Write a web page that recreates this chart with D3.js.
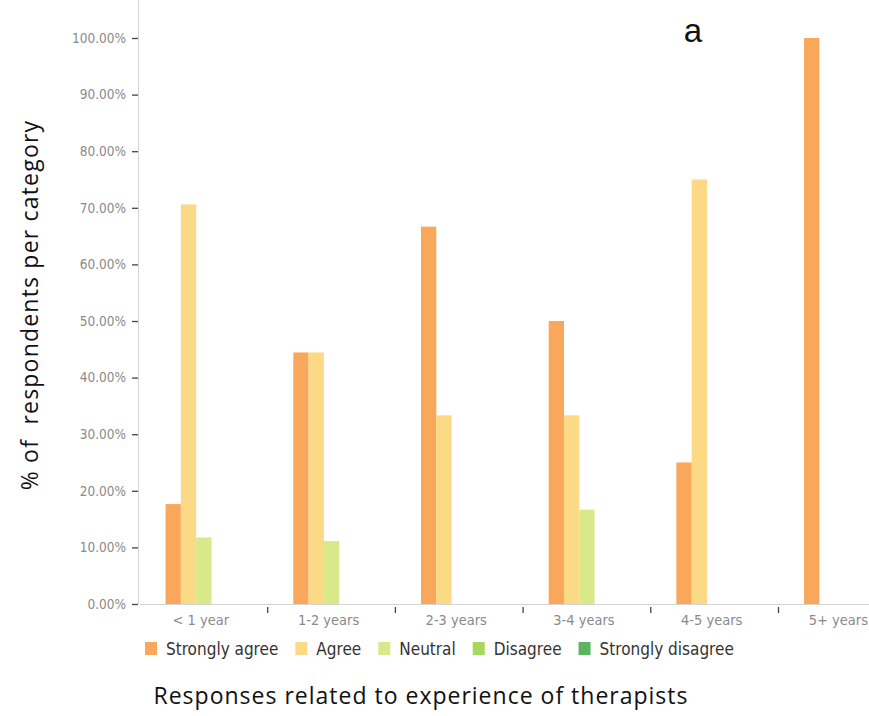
<!DOCTYPE html>
<html>
<head>
<meta charset="utf-8">
<script src="https://cdn.jsdelivr.net/npm/d3@7"></script>
<style>
  html, body { margin: 0; padding: 0; background: #fff; }
  svg { display: block; }
  .cond { font-family: "Liberation Sans Narrow", "DejaVu Sans Condensed", "Roboto Condensed", sans-serif; }
</style>
</head>
<body>
<svg id="chart" width="869" height="716"></svg>
<script>
const categories = ["< 1 year", "1-2 years", "2-3 years", "3-4 years", "4-5 years", "5+ years"];
const seriesNames = ["Strongly agree", "Agree", "Neutral", "Disagree", "Strongly disagree"];
const stronglyAgree    = [17.65, 44.44, 66.67, 50.00, 25.00, 100.00];
const agree            = [70.59, 44.44, 33.33, 33.33, 75.00, 0];
const neutral          = [11.76, 11.11, 0, 16.67, 0, 0];
const disagree         = [0, 0, 0, 0, 0, 0];
const stronglyDisagree = [0, 0, 0, 0, 0, 0];
const yTicks = [0, 10, 20, 30, 40, 50, 60, 70, 80, 90, 100];
const colors = ["#F9A85B", "#FCD985", "#D9E98A", "#A6D95B", "#5BB55E"];

const seriesValues = [stronglyAgree, agree, neutral, disagree, stronglyDisagree];

const svg = d3.select("#chart");
const x0 = 140, step = 127.7;
const x = d3.scaleBand().domain(categories).range([x0, x0 + step * categories.length]).paddingInner(0).paddingOuter(0);
const xs = d3.scaleBand().domain(seriesNames).range([0, x.bandwidth()]).paddingInner(0).paddingOuter(1.67);
const y = d3.scaleLinear().domain([0, 100]).range([604, 38]);

// bars
seriesNames.forEach((s, si) => {
  svg.append("g").selectAll("rect")
    .data(categories.map((c, ci) => ({ c, v: seriesValues[si][ci] })))
    .join("rect")
    .attr("x", d => x(d.c) + xs(s))
    .attr("y", d => y(d.v))
    .attr("width", xs.bandwidth())
    .attr("height", d => y(0) - y(d.v))
    .attr("fill", colors[si]);
});

// y axis
const yAxis = svg.append("g").attr("transform", "translate(138,0)")
  .call(d3.axisLeft(y).tickValues(yTicks).tickSize(6).tickPadding(6).tickFormat(d => d.toFixed(2) + "%"));
yAxis.select(".domain").attr("stroke", "#d4d4d4").attr("d", "M0.5,0V" + y(0));
yAxis.selectAll(".tick line").attr("stroke", "#444").attr("x2", -6).attr("stroke-width", 1.3);
yAxis.selectAll(".tick text").attr("fill", "#8a8a8a").attr("class", "cond").style("font-size", "13.5px");

// x axis
const xAxis = svg.append("g").attr("transform", "translate(0," + y(0) + ")")
  .call(d3.axisBottom(x).tickSize(0).tickPadding(11));
xAxis.select(".domain").attr("stroke", "#d4d4d4").attr("d", "M" + x0 + ",0.5H869");
xAxis.selectAll(".tick text").attr("fill", "#8a8a8a").attr("class", "cond").style("font-size", "14.5px").attr("dx", -3);
// last label sits at the right edge of the picture
xAxis.selectAll(".tick").filter(d => d === categories[categories.length - 1])
  .select("text").attr("text-anchor", "end").attr("x", 0).attr("dx", null)
  .attr("transform", function () { return "translate(" + (868 - x(categories[categories.length - 1]) - x.bandwidth() / 2) + ",0)"; });
xAxis.selectAll(".sep").data(categories.slice(1)).join("line")
  .attr("class", "sep")
  .attr("x1", d => x(d)).attr("x2", d => x(d))
  .attr("y1", 3).attr("y2", 9)
  .attr("stroke", "#444").attr("stroke-width", 1.3);

// legend
const legend = svg.append("g").attr("transform", "translate(145,642)");
let lx = 0;
seriesNames.forEach((s, i) => {
  const g = legend.append("g").attr("transform", "translate(" + lx + ",0)");
  g.append("rect").attr("width", 12).attr("height", 13).attr("fill", colors[i]);
  const t = g.append("text").attr("x", 21).attr("y", 12.5).attr("class", "cond")
    .style("font-size", "17px").attr("fill", "#333").text(s);
  lx += 21 + t.node().getComputedTextLength() + 17;
});

// titles
svg.append("text")
  .attr("transform", "translate(38,305) rotate(-90)")
  .attr("text-anchor", "middle")
  .style("font-family", "'Open Sans', 'Noto Sans', sans-serif")
  .style("font-size", "23px")
  .style("letter-spacing", "1.2px")
  .attr("fill", "#111")
  .attr("xml:space", "preserve")
  .text("% of  respondents per category");

svg.append("text")
  .attr("x", 421).attr("y", 704)
  .attr("text-anchor", "middle")
  .style("font-family", "'Open Sans', 'Noto Sans', sans-serif")
  .style("font-size", "23px")
  .style("letter-spacing", "1px")
  .attr("fill", "#111")
  .text("Responses related to experience of therapists");

svg.append("text")
  .attr("x", 693).attr("y", 42)
  .attr("text-anchor", "middle")
  .style("font-family", "'Liberation Sans', Arial, sans-serif")
  .style("font-size", "33px")
  .attr("fill", "#111")
  .text("a");
</script>
</body>
</html>
